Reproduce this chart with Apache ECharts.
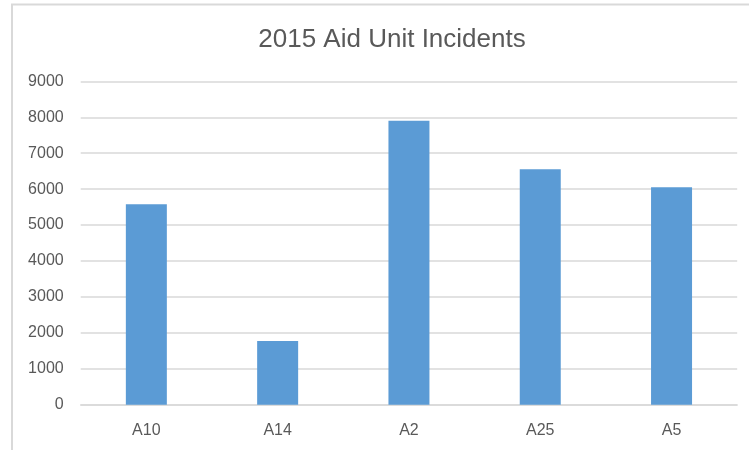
<!DOCTYPE html>
<html>
<head>
<meta charset="utf-8">
<script src="https://cdn.jsdelivr.net/npm/echarts@6/dist/echarts.min.js"></script>
<style>html,body{margin:0;padding:0;background:#fff}#c{width:749px;height:450px}</style>
</head>
<body>
<div id="c"></div>
<script>
var titleText = "2015 Aid Unit Incidents";
var categories = ["A10", "A14", "A2", "A25", "A5"];
var incidents = [5580, 1770, 7905, 6555, 6050];
var yTicks = [0, 1000, 2000, 3000, 4000, 5000, 6000, 7000, 8000, 9000];

var chart = echarts.init(document.getElementById('c'), null, {renderer: 'canvas'});
chart.setOption({
  animation: false,
  backgroundColor: '#ffffff',
  title: {
    text: titleText,
    left: 387,
    textAlign: 'center',
    top: 22,
    textStyle: {fontFamily: 'Liberation Sans', fontSize: 26, fontWeight: 'normal', color: '#595959'}
  },
  graphic: [{
    type: 'rect', z: -1, silent: true,
    shape: {x: 12, y: 4.5, width: 800, height: 500},
    style: {fill: 'none', stroke: '#d9d9d9', lineWidth: 2}
  }],
  grid: {left: 80.7, right: 11.8, top: 81.4, bottom: 45.3, containLabel: false},
  xAxis: {
    type: 'category',
    data: categories,
    axisTick: {show: false},
    axisLine: {lineStyle: {color: '#d9d9d9', width: 1.5}},
    axisLabel: {margin: 18, fontFamily: 'Liberation Sans', fontSize: 16, color: '#595959'}
  },
  yAxis: {
    type: 'value',
    min: yTicks[0],
    max: yTicks[yTicks.length - 1],
    interval: 1000,
    axisLine: {show: false},
    axisTick: {show: false},
    splitLine: {lineStyle: {color: '#d9d9d9', width: 1.5}},
    axisLabel: {
      margin: 17, fontFamily: 'Liberation Sans', fontSize: 16, color: '#595959',
      formatter: function (v) { return String(v); }
    }
  },
  series: [{
    type: 'bar',
    data: incidents,
    barWidth: 41,
    itemStyle: {color: '#5b9bd5'}
  }]
});
</script>
</body>
</html>
